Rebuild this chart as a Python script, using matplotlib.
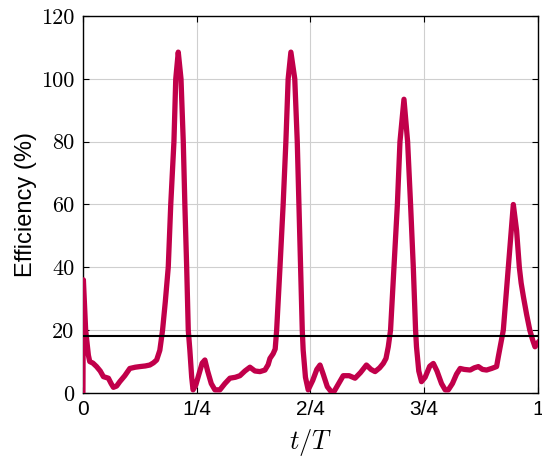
import matplotlib

matplotlib.use("Agg")

import matplotlib.pyplot as plt

plt.rcParams["mathtext.fontset"] = "cm"

# t/T and efficiency (%)
t = [0.000, 0.001, 0.006, 0.012, 0.015, 0.022, 0.030, 0.038, 0.045, 0.056,
     0.062, 0.067, 0.074, 0.081, 0.092, 0.103, 0.115, 0.125, 0.137, 0.147,
     0.155, 0.162, 0.169, 0.175, 0.181, 0.1875, 0.193, 0.200, 0.204, 0.2095,
     0.2155, 0.2205, 0.224, 0.228, 0.2315, 0.235, 0.239, 0.242, 0.248, 0.255,
     0.262, 0.268, 0.274, 0.282, 0.290, 0.301, 0.312, 0.323, 0.335, 0.345,
     0.356, 0.367, 0.378, 0.389, 0.400, 0.407, 0.411, 0.418, 0.4225, 0.4257,
     0.433, 0.440, 0.446, 0.451, 0.457, 0.4655, 0.471, 0.4747, 0.4784, 0.482,
     0.484, 0.489, 0.495, 0.505, 0.514, 0.521, 0.528, 0.537, 0.545, 0.552,
     0.560, 0.572, 0.585, 0.598, 0.610, 0.623, 0.633, 0.642, 0.652, 0.660,
     0.666, 0.671, 0.676, 0.6835, 0.691, 0.6967, 0.7055, 0.7135, 0.720, 0.726,
     0.731, 0.733, 0.738, 0.744, 0.752, 0.762, 0.770, 0.778, 0.788, 0.796,
     0.803, 0.812, 0.821, 0.829, 0.838, 0.851, 0.860, 0.869, 0.878, 0.887,
     0.898, 0.909, 0.9128, 0.9238, 0.9348, 0.9458, 0.953, 0.959, 0.963, 0.968,
     0.975, 0.982, 0.988, 0.9934, 1.000]
eff = [0.0, 36.0, 20.0, 12.0, 10.0, 9.5, 8.4, 7.0, 5.2, 4.7,
       3.0, 1.8, 2.2, 3.6, 5.5, 7.8, 8.2, 8.4, 8.6, 8.9,
       9.6, 10.5, 13.6, 20.0, 29.0, 40.0, 60.0, 80.0, 100.0, 108.5,
       100.0, 80.0, 60.0, 40.0, 20.0, 13.6, 5.0, 1.0, 2.5, 6.0,
       9.5, 10.5, 7.0, 3.0, 1.0, 1.0, 3.0, 4.7, 5.0, 5.5,
       7.0, 8.2, 7.0, 6.8, 7.3, 9.0, 11.0, 12.5, 14.0, 20.0,
       40.0, 60.0, 80.0, 100.0, 108.5, 100.0, 80.0, 60.0, 40.0, 20.0,
       13.6, 5.0, 1.0, 4.0, 7.5, 8.9, 6.0, 2.0, 0.5, 0.5,
       2.5, 5.5, 5.5, 4.7, 6.5, 8.9, 7.5, 6.8, 8.0, 9.4,
       11.0, 14.7, 20.0, 40.0, 60.0, 80.0, 93.5, 80.0, 60.0, 40.0,
       20.0, 14.7, 7.0, 3.6, 5.0, 8.5, 9.4, 7.0, 3.0, 1.0,
       1.0, 3.0, 6.0, 7.8, 7.5, 7.3, 8.0, 8.4, 7.5, 7.3,
       7.8, 8.4, 11.5, 20.0, 40.0, 60.0, 51.7, 40.0, 35.0, 30.6,
       25.0, 20.0, 17.0, 14.7, 16.0]

mean_eff = 18.0

xticks = [0, 0.25, 0.5, 0.75, 1]
xtick_labels = ["0", "1/4", "2/4", "3/4", "1"]
yticks = [0, 20, 40, 60, 80, 100, 120]

fig = plt.figure(figsize=(5.42, 4.62), dpi=100)
ax = fig.add_axes([0.153, 0.1494, 0.8396, 0.816])

ax.grid(True, color="#cfcfcf", linewidth=0.8)
ax.set_axisbelow(True)

ax.plot(t, eff, color="#c1004a", linewidth=3.8, solid_joinstyle="round", zorder=3)
ax.axhline(mean_eff, color="black", linewidth=1.5, zorder=4)

ax.set_xlim(0, 1)
ax.set_ylim(0, 120)
ax.set_xticks(xticks)
ax.set_xticklabels(xtick_labels, fontfamily="Liberation Sans", fontsize=15)
ax.set_yticks(yticks)
ax.set_yticklabels([str(v) for v in yticks], fontfamily="cmr10", fontsize=16)

ax.tick_params(direction="in", length=4, width=0.8, top=True, right=True)
ax.tick_params(axis="x", pad=5)
ax.tick_params(axis="y", pad=6)

for s in ax.spines.values():
    s.set_linewidth(1.0)

ax.set_ylabel("Efficiency (%)", fontfamily="Liberation Sans", fontsize=17, labelpad=3)
ax.set_xlabel(r"$t/T$", fontsize=19, labelpad=6)

fig.savefig("out.png", dpi=100)
